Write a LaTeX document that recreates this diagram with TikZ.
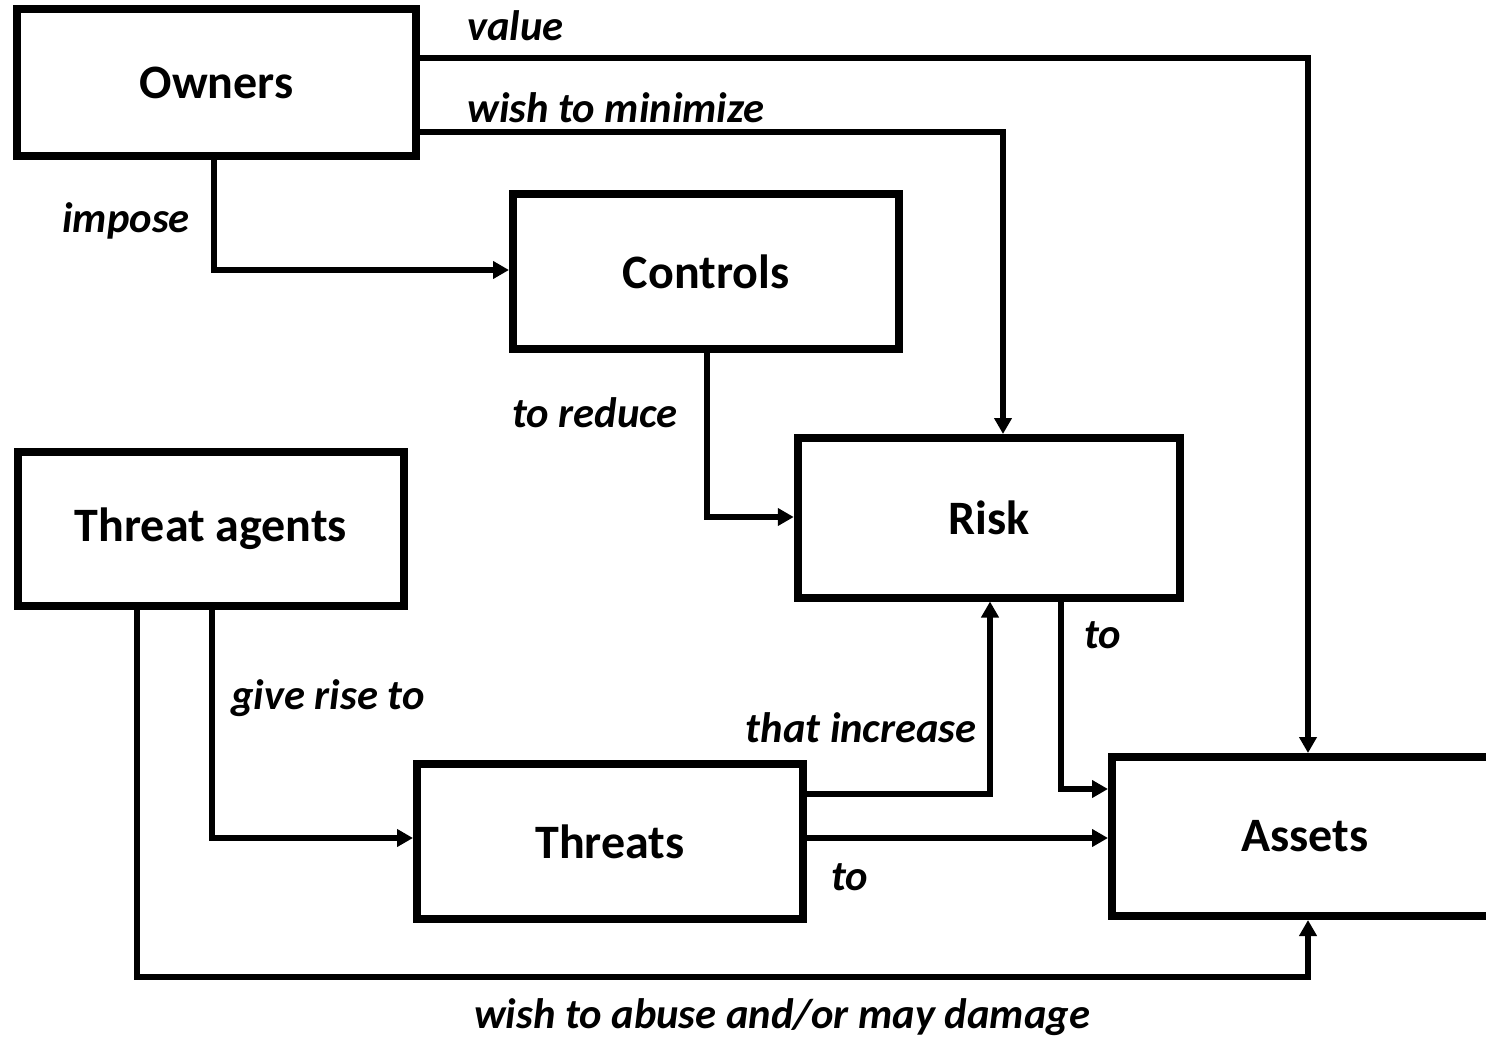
\documentclass[tikz,border=0pt]{standalone}
\usepackage{fontspec}
\setmainfont{Carlito}
\usetikzlibrary{arrows.meta}
\begin{document}
\begin{tikzpicture}[x=0.5pt,y=-0.5pt,
  box/.style={draw=black,line width=4pt,fill=white,rectangle,inner sep=0pt,
    font=\fontsize{24}{29}\selectfont\bfseries},
  conn/.style={line width=3pt,-{Triangle[length=8pt,width=8.5pt]}},
  lbl/.style={inner sep=0pt,font=\fontsize{21.3}{26}\selectfont\bfseries\itshape}]
\useasboundingbox (0,0) rectangle (1486,1037);
\clip (0,0) rectangle (1486,1037);
% boxes
\node[box,minimum width=199.5pt,minimum height=73.75pt] (owners) at (216.5,82.75) {\raisebox{-1pt}{Owners}};
\node[box,minimum width=193pt,minimum height=77.5pt] (controls) at (706,271.5) {Controls};
\node[box,minimum width=193pt,minimum height=77pt] (agents) at (211,529) {\raisebox{-1pt}{Threat agents}};
\node[box,minimum width=191.25pt,minimum height=79.75pt] (risk) at (989,517.75) {Risk};
\node[box,minimum width=193pt,minimum height=77.5pt] (threats) at (610,841.5) {\raisebox{-1pt}{Threats}};
\node[box,minimum width=193pt,minimum height=79.5pt] (assets) at (1305,836.5) {Assets};
% connectors
\draw[conn] (owners.east |- 0,58) -| (1308,0 |- assets.north);
\draw[conn] (owners.east |- 0,132) -| (1003,0 |- risk.north);
\draw[conn] (214,0 |- owners.south) |- (controls.west |- 0,270);
\draw[conn] (707,0 |- controls.south) |- (risk.west |- 0,517);
\draw[conn] (1061,0 |- risk.south) |- (assets.west |- 0,789);
\draw[conn] (threats.east |- 0,794) -| (990,0 |- risk.south);
\draw[conn] (threats.east |- 0,838) -- (assets.west |- 0,838);
\draw[conn] (212,0 |- agents.south) |- (threats.west |- 0,838);
\draw[conn] (137,0 |- agents.south) |- (1308,977) -- (1308,0 |- assets.south);
% labels
\node[lbl,anchor=base west] (lvalue) at (467,41) {value};
\node[lbl,anchor=base west] (lmin) at (467,123) {wish to minimize};
\node[lbl,anchor=base west] (limpose) at (62,233) {impose};
\node[lbl,anchor=base west] (lreduce) at (512,427) {to reduce};
\node[lbl,anchor=base west] (lrise) at (231,709) {give rise to};
\node[lbl,anchor=base east] (lincrease) at (977,742) {that increase};
\node[lbl,anchor=base west] (lto1) at (1084,648) {to};
\node[lbl,anchor=base west] (lto2) at (831,890) {to};
\node[lbl,anchor=base] (labuse) at (782,1028) {wish to abuse and/or may damage};
\end{tikzpicture}
\end{document}
